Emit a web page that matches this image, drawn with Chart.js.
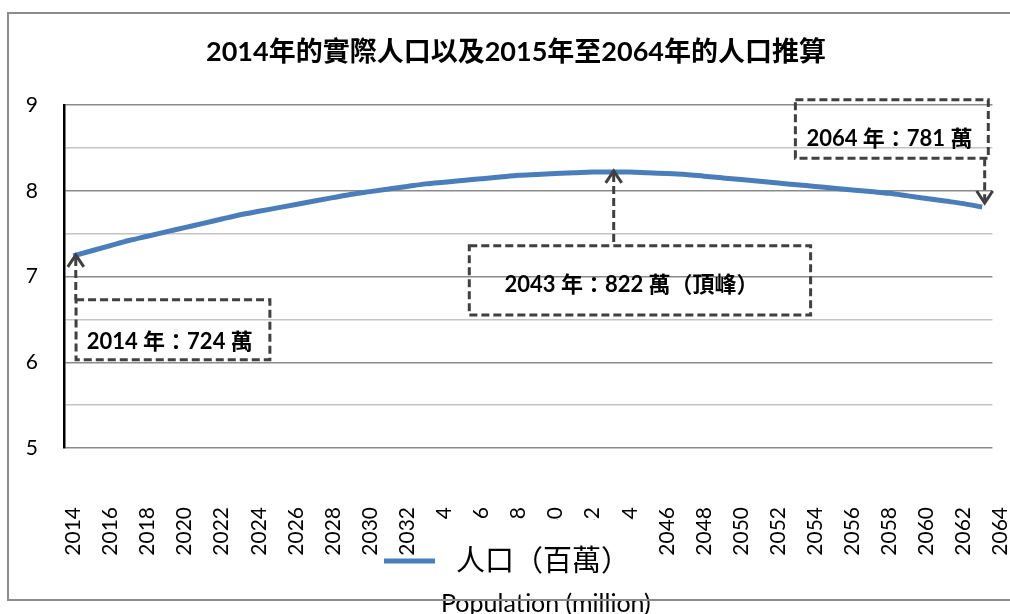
<!DOCTYPE html>
<html>
<head>
<meta charset="utf-8">
<script src="https://cdn.jsdelivr.net/npm/chart.js@4/dist/chart.umd.min.js"></script>
<style>
  body { margin: 0; background: #ffffff; }
  #chartBox { width: 1010px; height: 614px; }
</style>
</head>
<body>
<div id="chartBox"><canvas id="popChart" width="1010" height="614"></canvas></div>
<script>
// 년도 (축 라벨)
var years = ['2014','2015','2016','2017','2018','2019','2020','2021','2022','2023',
             '2024','2025','2026','2027','2028','2029','2030','2031','2032','2033',
             '2034','2035','2036','2037','2038','2039','2040','2041','2042','2043',
             '2044','2045','2046','2047','2048','2049','2050','2051','2052','2053',
             '2054','2055','2056','2057','2058','2059','2060','2061','2062','2063',
             '2064'];

// 인구 (백만) - 그림에서 읽은 값
var population = [7.24, 7.30, 7.36, 7.42, 7.47, 7.52, 7.57, 7.62, 7.67, 7.72,
                  7.76, 7.80, 7.84, 7.88, 7.92, 7.96, 7.99, 8.02, 8.05, 8.08,
                  8.10, 8.12, 8.14, 8.16, 8.18, 8.19, 8.20, 8.21, 8.22, 8.22,
                  8.22, 8.21, 8.20, 8.19, 8.17, 8.15, 8.13, 8.11, 8.09, 8.07,
                  8.05, 8.03, 8.01, 7.99, 7.97, 7.94, 7.91, 7.88, 7.85, 7.81];

var yTicks = [5, 6, 7, 8, 9];

var seriesLabel = '人口（百萬）';
var subLabel = 'Population (million)';
var chartTitle = '2014年的實際人口以及2015年至2064年的人口推算';

// 주석 (점 번호, 상자는 축 좌표)
var notes = [
  { text: '2014 年：724 萬', point: 0, dir: 'up', box: [0.15, 10.6, 6.73, 6.03], textAt: [5.2, 6.24] },
  { text: '2043 年：822 萬（頂峰）', point: 29, dir: 'up', box: [21.35, 39.75, 7.36, 6.55], textAt: [30.1, 6.90] },
  { text: '2064 年：781 萬', point: 49, dir: 'down', box: [38.93, 49.33, 9.06, 8.38], textAt: [44.0, 8.60] }
];

var fontLat = '"Lato", "Noto Sans CJK TC", sans-serif';
var lineColor = '#4a7ebb';
var noteColor = '#404040';

var notePlugin = {
  id: 'notePlugin',
  beforeDatasetsDraw: function (chart) {
    // 마지막 데이터 칸 뒤의 격자선 가리기
    var ctx = chart.ctx;
    var area = chart.chartArea;
    var edge = chart.scales.x.getPixelForValue(population.length - 0.5);
    ctx.save();
    ctx.fillStyle = '#ffffff';
    ctx.fillRect(edge + 1, area.top - 3, area.right - edge, area.bottom - area.top + 6);
    ctx.restore();
  },
  afterDraw: function (chart) {
    var ctx = chart.ctx;
    var xs = chart.scales.x;
    var ys = chart.scales.y;
    var meta = chart.getDatasetMeta(0);

    ctx.save();
    notes.forEach(function (n) {
      var pt = meta.data[n.point];
      var x0 = xs.getPixelForValue(n.box[0]);
      var x1 = xs.getPixelForValue(n.box[1]);
      var y0 = ys.getPixelForValue(n.box[2]);
      var y1 = ys.getPixelForValue(n.box[3]);
      var ax = pt.x + 2.5;
      var tipY = n.dir == 'up' ? pt.y - 1 : pt.y - 4;

      ctx.strokeStyle = noteColor;
      ctx.lineWidth = 3;
      ctx.setLineDash([8, 4]);
      ctx.strokeRect(x0, y0, x1 - x0, y1 - y0);

      ctx.beginPath();
      if (n.dir == 'up') {
        ctx.moveTo(ax, tipY + 3);
        ctx.lineTo(ax, y0);
      } else {
        ctx.moveTo(ax, y1);
        ctx.lineTo(ax, tipY - 3);
      }
      ctx.stroke();

      ctx.setLineDash([]);
      ctx.beginPath();
      var s = n.dir == 'up' ? 1 : -1;
      ctx.moveTo(ax - 8, tipY + 12 * s);
      ctx.lineTo(ax, tipY);
      ctx.lineTo(ax + 8, tipY + 12 * s);
      ctx.stroke();

      ctx.fillStyle = '#000000';
      ctx.font = 'bold 22px ' + fontLat;
      ctx.textAlign = 'center';
      ctx.textBaseline = 'middle';
      ctx.fillText(n.text, xs.getPixelForValue(n.textAt[0]), ys.getPixelForValue(n.textAt[1]));
    });

    // 범례 (x 라벨 위에 겹침)
    var ds = chart.data.datasets[0];
    ctx.fillStyle = '#ffffff';
    ctx.fillRect(436, 520, 214, 82);
    ctx.strokeStyle = ds.borderColor;
    ctx.lineWidth = 5;
    ctx.beginPath();
    ctx.moveTo(384, 561);
    ctx.lineTo(435, 561);
    ctx.stroke();

    ctx.fillStyle = '#000000';
    ctx.textAlign = 'left';
    ctx.textBaseline = 'middle';
    ctx.font = '29px "Noto Sans CJK TC", serif';
    ctx.fillText(ds.label, 456, 560);
    ctx.font = '25px ' + fontLat;
    ctx.textBaseline = 'alphabetic';
    ctx.fillText(subLabel, 441, 612);

    // 바깥 테두리
    ctx.strokeStyle = '#8c8c8c';
    ctx.lineWidth = 2;
    ctx.strokeRect(8, 13, 1100, 587);
    ctx.restore();
  }
};

var ctx = document.getElementById('popChart').getContext('2d');
var chart = new Chart(ctx, {
  type: 'line',
  data: {
    labels: years,
    datasets: [{
      label: seriesLabel,
      data: population,
      borderColor: lineColor,
      backgroundColor: lineColor,
      borderWidth: 5,
      pointRadius: 0,
      cubicInterpolationMode: 'monotone',
      fill: false
    }]
  },
  options: {
    responsive: false,
    animation: false,
    devicePixelRatio: 1,
    layout: { padding: { left: 22, right: 0, top: 14, bottom: 0 } },
    plugins: {
      legend: { display: false },
      tooltip: { enabled: false },
      title: {
        display: true,
        text: chartTitle,
        color: '#000000',
        font: { family: fontLat, size: 27, weight: 'bold' },
        padding: { top: 22, bottom: 36.6 }
      }
    },
    scales: {
      x: {
        type: 'category',
        offset: true,
        afterFit: function (scale) {
          scale.height = 166;
          scale.paddingLeft = 0;
          scale.paddingRight = 0;
        },
        grid: { display: false, drawTicks: false },
        border: { display: false },
        ticks: {
          autoSkip: false,
          maxRotation: 90,
          minRotation: 90,
          padding: 59,
          color: '#000000',
          font: { family: fontLat, size: 21 },
          callback: function (val, index) {
            return index % 2 == 0 ? this.getLabelForValue(val) : '';
          }
        }
      },
      y: {
        min: 5,
        max: 9,
        afterFit: function (scale) { scale.width = 42; },
        grid: {
          drawTicks: false,
          lineWidth: 1.5,
          color: function (c) {
            return yTicks.indexOf(c.tick.value) >= 0 ? '#8a8a8a' : '#c4c4c4';
          }
        },
        border: { display: true, color: '#000000', width: 2.5 },
        ticks: {
          stepSize: 0.5,
          padding: 26,
          color: '#000000',
          font: { family: fontLat, size: 21 },
          callback: function (val) {
            return yTicks.indexOf(val) >= 0 ? val : '';
          }
        }
      }
    }
  },
  plugins: [notePlugin]
});
</script>
</body>
</html>
